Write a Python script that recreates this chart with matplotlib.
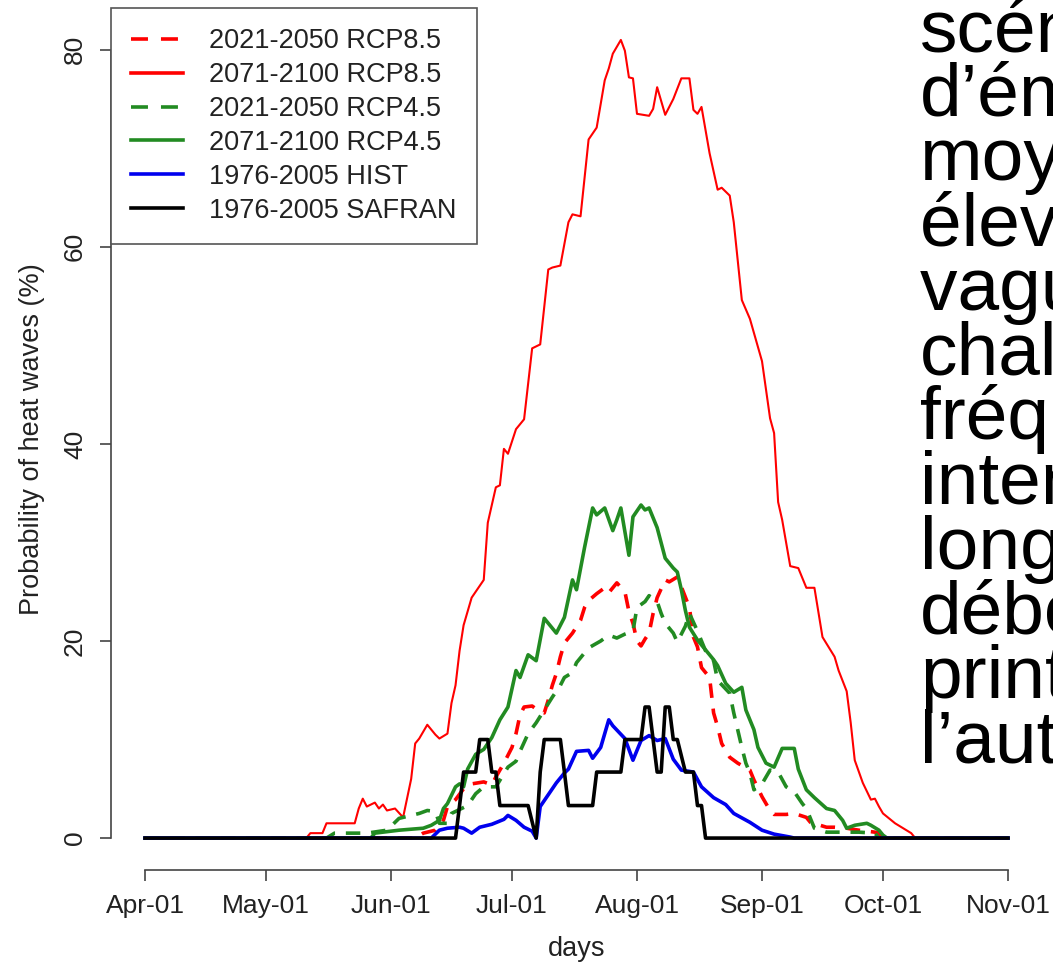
import matplotlib
matplotlib.use("Agg")
import matplotlib.pyplot as plt
from matplotlib.lines import Line2D

plt.rcParams["font.family"] = ["Liberation Sans", "DejaVu Sans"]

# days counted from Apr-01
month_ticks = [0, 30, 61, 91, 122, 153, 183, 214]
month_labels = ["Apr-01", "May-01", "Jun-01", "Jul-01", "Aug-01", "Sep-01", "Oct-01", "Nov-01"]
y_ticks = [0, 20, 40, 60, 80]

# 2021-2050 RCP8.5 (red dashed)
rcp85_near_days = [0, 67, 69, 72, 74, 75, 77, 79, 81, 84, 86, 87, 89, 91, 92, 93, 94, 96, 98, 99,
                   100, 101, 102, 103, 104, 106, 108, 109, 110, 112, 114, 115, 117, 119, 120, 121, 122, 123, 124, 125,
                   126, 127, 129, 130, 132, 133, 135, 136, 137, 138, 140, 141, 142, 143, 145, 147, 150, 151, 153, 155,
                   156, 159, 161, 164, 165, 169, 171, 174, 177, 181, 182, 183, 214]
rcp85_near_vals = [0, 0, 0.5, 0.8, 1.8, 3.2, 3.9, 5.0, 5.5, 5.7, 5.4, 6.2, 7.6, 9.2, 10.6, 12.5, 13.3, 13.4, 12.8, 12.7,
                   14.0, 15.5, 16.7, 18.4, 19.8, 20.8, 22.1, 23.4, 24.1, 24.8, 25.4, 24.9, 25.9, 25.0, 23.0, 21.8, 20.0, 19.5, 20.2, 20.8,
                   22.8, 24.4, 26.2, 26.0, 26.5, 25.5, 23.4, 20.4, 19.4, 17.3, 16.3, 12.7, 11.3, 9.6, 8.2, 7.6, 6.9, 5.9, 4.2, 2.8,
                   2.4, 2.4, 2.5, 2.1, 1.6, 1.1, 1.1, 1.0, 0.8, 0.6, 0.5, 0, 0]

# 2071-2100 RCP8.5 (red solid)
rcp85_far_days = [0, 40, 41, 44, 45, 52, 53, 54, 55, 57, 58, 59, 60, 62, 64, 66, 67, 68, 70, 72,
                  73, 75, 76, 77, 78, 79, 81, 84, 85, 87, 88, 89, 90, 92, 94, 96, 98, 100, 101, 103,
                  105, 106, 108, 110, 112, 114, 115, 116, 118, 119, 120, 121, 122, 125, 126, 127, 129, 131, 133, 135,
                  136, 137, 138, 140, 142, 143, 145, 146, 148, 150, 153, 155, 156, 157, 158, 160, 162, 164, 166, 168,
                  171, 172, 174, 175, 176, 178, 180, 181, 182, 183, 186, 188, 190, 191, 214]
rcp85_far_vals = [0, 0, 0.5, 0.5, 1.5, 1.5, 3.0, 4.0, 3.2, 3.6, 3.0, 3.4, 2.8, 3.0, 2.1, 6.0, 9.6, 10.1, 11.5, 10.5,
                  10.1, 10.6, 13.7, 15.5, 19.0, 21.6, 24.4, 26.2, 32.0, 35.6, 35.8, 39.5, 39.0, 41.5, 42.5, 49.7, 50.1, 57.7, 57.9, 58.1,
                  62.5, 63.3, 63.1, 70.9, 72.1, 76.9, 78.1, 79.6, 81.0, 79.9, 77.2, 77.1, 73.5, 73.3, 74.0, 76.2, 73.4, 75.0, 77.1, 77.1,
                  73.9, 73.5, 74.2, 69.5, 65.8, 66.0, 65.2, 62.5, 54.6, 52.7, 48.4, 42.6, 41.1, 34.1, 32.3, 27.6, 27.4, 25.4, 25.4, 20.4,
                  18.4, 17.0, 14.9, 11.7, 7.9, 5.6, 3.9, 4.0, 3.2, 2.5, 1.5, 1.0, 0.5, 0, 0]

# 2021-2050 RCP4.5 (green dashed)
rcp45_near_days = [0, 45, 47, 55, 60, 63, 65, 68, 70, 72, 73, 75, 76, 78, 80, 82, 84, 87, 90, 92,
                   93, 95, 97, 99, 101, 103, 104, 106, 107, 109, 110, 113, 115, 117, 119, 121, 122, 124, 125, 127,
                   128, 129, 131, 132, 134, 135, 137, 139, 141, 142, 145, 146, 148, 149, 150, 151, 153, 155, 157, 159,
                   161, 163, 164, 166, 169, 172, 177, 181, 182, 214]
rcp45_near_vals = [0, 0, 0.5, 0.5, 0.8, 2.0, 2.2, 2.5, 2.8, 2.7, 1.5, 1.5, 2.5, 2.9, 3.3, 4.5, 5.2, 5.2, 7.2, 7.8,
                   8.8, 10.6, 11.7, 13.0, 14.3, 15.5, 16.3, 16.8, 17.8, 18.8, 19.3, 20.0, 20.6, 20.3, 20.7, 21.0, 23.4, 24.0, 24.6, 24.0,
                   22.8, 21.8, 20.8, 19.9, 21.5, 22.8, 21.0, 19.0, 18.0, 16.0, 14.7, 12.7, 9.2, 7.6, 6.6, 4.9, 5.5, 6.9, 6.7, 5.2,
                   4.7, 3.5, 3.0, 1.0, 0.6, 0.6, 0.6, 0.5, 0, 0]

# 2071-2100 RCP4.5 (green solid)
rcp45_far_days = [0, 56, 57, 63, 69, 71, 73, 74, 75, 77, 78, 79, 80, 82, 84, 86, 88, 90, 92, 93,
                  95, 97, 99, 100, 102, 104, 106, 107, 109, 111, 112, 114, 116, 117, 118, 120, 121, 123, 124, 125,
                  127, 129, 131, 132, 133, 134, 135, 137, 139, 141, 142, 144, 146, 148, 149, 151, 152, 154, 156, 158,
                  161, 162, 164, 166, 169, 171, 173, 174, 176, 179, 180, 182, 183, 184, 214]
rcp45_far_vals = [0, 0, 0.5, 0.8, 1.0, 1.3, 1.8, 3.0, 3.5, 5.2, 5.5, 5.2, 7.0, 8.5, 9.0, 10.2, 12.0, 13.3, 17.0, 16.3,
                  18.6, 18.0, 22.3, 21.8, 20.8, 22.4, 26.2, 25.2, 29.5, 33.5, 32.8, 33.5, 31.2, 32.3, 33.5, 28.7, 32.6, 33.8, 33.3, 33.5,
                  31.5, 28.4, 27.4, 27.0, 25.2, 23.1, 21.4, 20.1, 19.1, 18.1, 17.5, 15.7, 14.8, 15.3, 13.0, 11.0, 9.2, 7.6, 7.2, 9.1,
                  9.1, 7.0, 4.9, 4.1, 3.0, 2.8, 1.8, 1.0, 1.3, 1.5, 1.3, 0.8, 0.3, 0, 0]

# 1976-2005 HIST (blue)
hist_days = [0, 71, 73, 75, 78, 79, 81, 83, 86, 89, 90, 92, 94, 96, 97, 98, 100, 102, 104, 105,
             107, 110, 111, 113, 114, 115, 116, 119, 121, 123, 125, 127, 129, 131, 133, 136, 138, 141, 144, 146,
             150, 153, 156, 160, 161, 214]
hist_vals = [0, 0, 0.8, 1.0, 1.1, 1.0, 0.5, 1.1, 1.4, 1.9, 2.3, 1.8, 1.1, 0.7, 0, 3.2, 4.4, 5.6, 6.6, 7.0,
             8.8, 8.9, 8.1, 9.2, 10.6, 12.0, 11.4, 10.1, 7.9, 9.9, 10.4, 9.9, 10.1, 8.0, 6.9, 6.7, 5.2, 4.1, 3.4, 2.5,
             1.6, 0.8, 0.4, 0.1, 0, 0]

# 1976-2005 SAFRAN (black)
safran_days = [0, 77, 78, 79, 82, 83, 85, 86, 87, 88, 95, 97, 98, 99, 103, 104, 105, 111, 112, 118,
               119, 123, 124, 125, 126, 127, 128, 129, 130, 131, 132, 134, 136, 137, 138, 139, 214]
safran_vals = [0, 0, 3.3, 6.7, 6.7, 10, 10, 6.7, 6.7, 3.3, 3.3, 0, 6.7, 10, 10, 6.7, 3.3, 3.3, 6.7, 6.7,
               10, 10, 13.3, 13.3, 10, 6.7, 6.7, 13.3, 13.3, 10, 10, 6.7, 6.7, 3.3, 3.3, 0, 0]

side_text = ["scénario", "d’émission", "moyen", "élevé :", "vagues de", "chaleur",
             "fréquentes,", "intenses,", "longues,", "débordant", "printemps", "l’automne"]

RED = "#ff0000"
GREEN = "#228b22"
BLUE = "#0000ee"
AXC = "#444444"
TXT = "#222222"

series = [
    ("2021-2050 RCP8.5", rcp85_near_days, rcp85_near_vals, RED, "--", 2.6),
    ("2071-2100 RCP8.5", rcp85_far_days, rcp85_far_vals, RED, "-", 1.5),
    ("2021-2050 RCP4.5", rcp45_near_days, rcp45_near_vals, GREEN, "--", 2.6),
    ("2071-2100 RCP4.5", rcp45_far_days, rcp45_far_vals, GREEN, "-", 2.6),
    ("1976-2005 HIST", hist_days, hist_vals, BLUE, "-", 2.6),
    ("1976-2005 SAFRAN", safran_days, safran_vals, "black", "-", 2.6),
]

W, H = 1053, 965
fig = plt.figure(figsize=(W / 100, H / 100), dpi=100)
ax = fig.add_axes([110.5 / W, 1 - 870 / H, 932 / W, 862 / H])

handles = []
for label, d, v, col, ls, lw in series:
    line, = ax.plot(d, v, color=col, lw=lw, ls=ls, solid_joinstyle="round")
    h = Line2D([], [], color=col, lw=2.6, ls=ls)
    if ls == "--":
        line.set_dashes((4, 3))
        h.set_dashes((4.7, 3.6))
    handles.append(h)

ax.set_xlim(-0.04 * 214, 214 * 1.04)
ax.set_ylim(-3.24, 84.24)

for s in ["top", "right"]:
    ax.spines[s].set_visible(False)
ax.spines["left"].set_bounds(0, 80)
ax.spines["bottom"].set_bounds(0, 214)
for s in ["left", "bottom"]:
    ax.spines[s].set_color(AXC)
    ax.spines[s].set_linewidth(1.2)

ax.set_xticks(month_ticks)
ax.set_xticklabels(month_labels)
ax.set_yticks(y_ticks)
ax.set_yticklabels([str(t) for t in y_ticks], rotation=90, va="center")
ax.tick_params(axis="both", length=8, width=1.2, color=AXC, labelsize=19,
               labelcolor=TXT, pad=9)

ax.set_xlabel("days", fontsize=19.5, color=TXT, labelpad=13)
ax.set_ylabel("Probability of heat waves (%)", fontsize=19.5, color=TXT, labelpad=13)

leg = ax.legend(handles, [s[0] for s in series], loc="upper left", bbox_to_anchor=(0, 1),
                borderaxespad=0, fontsize=19.5, handlelength=1.93, handletextpad=0.96,
                labelspacing=0.29, borderpad=0.75, fancybox=False, framealpha=1)
leg.get_frame().set_edgecolor("#555555")
leg.get_frame().set_linewidth(1.2)
for t in leg.get_texts():
    t.set_color(TXT)

# big side caption, cut off by the right edge like in the slide
for i, line in enumerate(side_text):
    fig.text(920 / W, 1 - (51 + 64.7 * i) / H, line, fontsize=54, va="baseline",
             ha="left", color="black")

fig.savefig("out.png", dpi=100)
